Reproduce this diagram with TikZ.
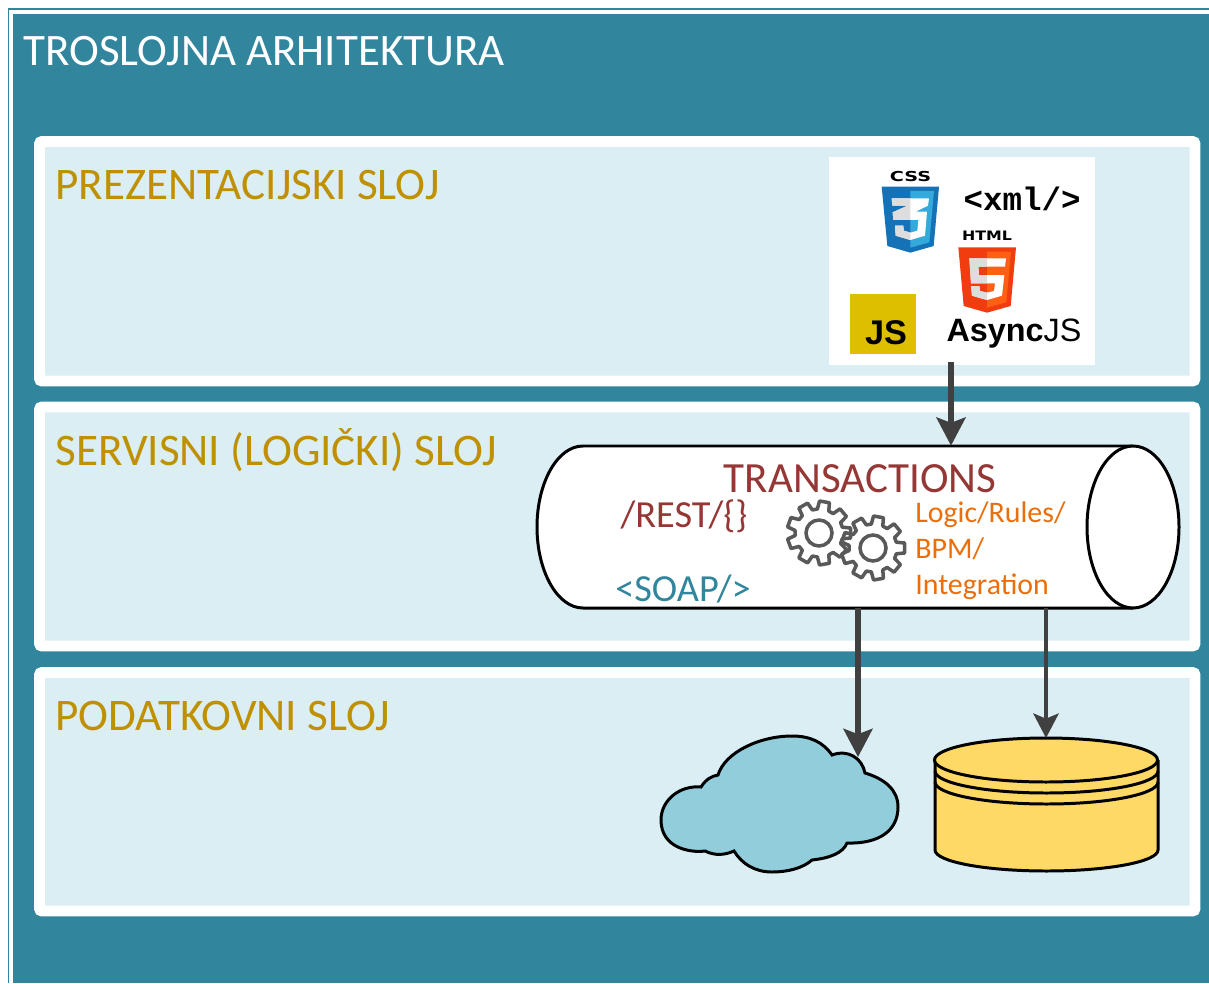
\documentclass[tikz,border=0pt]{standalone}
\usepackage{fontspec}
\setmainfont{Carlito}
\newfontfamily\logofont{DejaVu Sans}
\newfontfamily\xmlfont{Liberation Mono}
\newfontfamily\webfont{Liberation Sans}
\usetikzlibrary{arrows.meta}
\definecolor{tealbg}{HTML}{31859C}
\definecolor{panelblue}{HTML}{DBEEF4}
\definecolor{headgold}{HTML}{BF9000}
\definecolor{transred}{HTML}{953735}
\definecolor{logicorange}{HTML}{EA6E0B}
\definecolor{cloudblue}{HTML}{92CDDC}
\definecolor{dbyellow}{HTML}{FFD966}
\definecolor{flowgray}{HTML}{404040}
\definecolor{gearcol}{HTML}{595959}
\definecolor{cssdark}{HTML}{1572B6}
\definecolor{csslight}{HTML}{33A9DC}
\definecolor{htmldark}{HTML}{F03C0E}
\definecolor{htmllight}{HTML}{FF6014}
\definecolor{logogray}{HTML}{DDDDDD}
\definecolor{jsyellow}{HTML}{DDBF00}
\tikzset{
  panel/.style={draw=white,line width=6.2pt,fill=panelblue,rounded corners=1.5pt},
  heading/.style={anchor=west,inner sep=0pt,text=headgold,font=\fontsize{25.7}{28}\selectfont},
  shapeline/.style={draw=black,line width=1.7pt},
  bigflow/.style={draw=flowgray,line width=3pt,-{Stealth[length=16pt,width=16.5pt,inset=3pt]}},
  thinflow/.style={draw=flowgray,line width=1.8pt,-{Stealth[length=14pt,width=14.5pt,inset=3pt]}},
  logotext/.style={inner sep=0pt,text=black},
  pics/gear/.style={code={
    \draw[gearcol,line width=2pt,line join=round]
      (-14:24) \foreach \a in {0,40,...,320}{
        -- ({\a-14}:24) -- ({\a-9}:32) -- ({\a+9}:32) -- ({\a+14}:24) -- ({\a+26}:24)
      } -- cycle;
    \draw[gearcol,line width=2pt] (0,0) circle (13);
  }}
}
\begin{document}
\begin{tikzpicture}[x=0.02cm,y=-0.02cm]
    \useasboundingbox (0,0) rectangle (1209,983);
    \draw[tealbg,line width=0.8pt] (1209,9) -- (8.5,9) -- (8.5,983);
    \fill[tealbg] (13,14) rectangle (1209,983);
    \node[anchor=west,inner sep=0pt,text=white,font=\fontsize{25.6}{28}\selectfont] (title) at (23,51) {TROSLOJNA ARHITEKTURA};

    \draw[panel] (39.5,141.5) rectangle (1195,381);
    \draw[panel] (39.5,407) rectangle (1195,646);
    \draw[panel] (39.5,672.5) rectangle (1195,911);
    \node[heading] (presentation) at (55,185) {PREZENTACIJSKI SLOJ};
    \node[heading] (service) at (55,450) {SERVISNI (LOGIČKI) SLOJ};
    \node[heading] (data) at (55,716) {PODATKOVNI SLOJ};

    % web box
    \node[fill=white,inner sep=0pt,minimum width=5.32cm,minimum height=4.16cm] (web) at (962,261) {};
    \begin{scope}[shift={(875,165)},scale=1/3]
      \fill[cssdark] (20,65) -- (192,65) -- (176,243) -- (106,263) -- (37,243) -- cycle;
      \fill[csslight] (106,78) -- (177,78) -- (163,232) -- (106,248) -- cycle;
      \fill[white] (50,100) -- (162,100) -- (159,122) -- (122,140) -- (156,140) -- (150,212) -- (106,225) -- (62,212) -- (60,182) -- (85,182) -- (86,197) -- (106,203) -- (127,197) -- (130,165) -- (55,165) -- (53,142) -- (98,122) -- (52,122) -- cycle;
      \begin{scope}
        \clip (0,0) rectangle (106,300);
        \fill[logogray] (50,100) -- (162,100) -- (159,122) -- (122,140) -- (156,140) -- (150,212) -- (106,225) -- (62,212) -- (60,182) -- (85,182) -- (86,197) -- (106,203) -- (127,197) -- (130,165) -- (55,165) -- (53,142) -- (98,122) -- (52,122) -- cycle;
      \end{scope}
    \end{scope}
    \begin{scope}[shift={(950,225)},scale=1/3]
      \fill[htmldark] (25,67) -- (198,67) -- (182,243) -- (111,263) -- (41,243) -- cycle;
      \fill[htmllight] (111,80) -- (183,80) -- (169,232) -- (111,248) -- cycle;
      \fill[white] (58,100) -- (168,100) -- (165,125) -- (85,125) -- (87,150) -- (163,150) -- (156,212) -- (111,225) -- (66,212) -- (63,183) -- (88,183) -- (90,198) -- (111,203) -- (132,198) -- (135,175) -- (63,175) -- cycle;
      \begin{scope}
        \clip (0,0) rectangle (111,300);
        \fill[logogray] (58,100) -- (168,100) -- (165,125) -- (85,125) -- (87,150) -- (163,150) -- (156,212) -- (111,225) -- (66,212) -- (63,183) -- (88,183) -- (90,198) -- (111,203) -- (132,198) -- (135,175) -- (63,175) -- cycle;
      \end{scope}
    \end{scope}
    \node[logotext,font=\logofont\bfseries\fontsize{7.8}{8}\selectfont,xscale=1.4] (csslabel) at (910.5,177) {CSS};
    \node[logotext,font=\logofont\bfseries\fontsize{7.4}{8}\selectfont,xscale=1.22] (htmllabel) at (987,236) {HTML};
    \node[logotext,font=\xmlfont\bfseries\fontsize{18.5}{19}\selectfont] (xml) at (1022,199) {<xml/>};
    \node[fill=jsyellow,inner sep=0pt,minimum width=1.32cm,minimum height=1.22cm] (jsbox) at (882.5,324) {};
    \node[logotext,font=\webfont\bfseries\fontsize{19.5}{20}\selectfont] (jslabel) at (886,333) {JS};
    \node[logotext,font=\webfont\fontsize{18.4}{19}\selectfont] (async) at (1014,334) {\textbf{Async}JS};

    % transaction pipe
    \node[inner sep=0pt,minimum width=12.84cm,minimum height=3.24cm] (trans) at (858,527) {};
    \draw[shapeline,fill=white] (1133,446) -- (583,446) arc[start angle=270,end angle=90,x radius=46,y radius=81] -- (1133,608);
    \draw[shapeline,fill=white] (1133,527) ellipse [x radius=46,y radius=81];
    \node[inner sep=0pt,text=transred,font=\fontsize{24.5}{26}\selectfont] (translabel) at (860,479) {TRANSACTIONS};
    \node[inner sep=0pt,text=transred,font=\fontsize{21.8}{24}\selectfont] (rest) at (684,516) {/REST/\{\}};
    \node[inner sep=0pt,text=tealbg,font=\fontsize{21.8}{24}\selectfont] (soap) at (683,589) {<SOAP/>};
    \node[anchor=west,inner sep=0pt,align=left,text=logicorange,font=\fontsize{17}{20.4}\selectfont] (logic) at (915,551) {Logic/Rules/\\BPM/\\Integration};
    \pic at (819,533) {gear};
    \pic at (873,548) {gear};

    % cloud
    \draw[shapeline,fill=cloudblue] (701,787) .. controls (706,779) and (712,776) .. (718,775)
      .. controls (725,752) and (760,736) .. (792,736) .. controls (810,736) and (823,742) .. (832,755)
      .. controls (848,749) and (862,758) .. (865,773) .. controls (885,779) and (898,790) .. (898,807)
      .. controls (898,830) and (880,844) .. (847,843) .. controls (843,853) and (830,858) .. (812,860)
      .. controls (803,868) and (788,872) .. (772,872) .. controls (755,872) and (742,864) .. (734,851)
      .. controls (725,855) and (715,856) .. (705,851) .. controls (690,853) and (661,848) .. (661,820)
      .. controls (661,800) and (680,785) .. (701,787) -- cycle;
    \coordinate (cloudtop) at (858,757);

    % database
    \draw[shapeline,fill=dbyellow] (935,760) -- (935,850) arc[start angle=180,end angle=360,x radius=111.5,y radius=-21] -- (1158,760);
    \draw[shapeline,fill=dbyellow] (1046,760) ellipse [x radius=111.5,y radius=22];
    \draw[shapeline] (935,771) arc[start angle=180,end angle=360,x radius=111.5,y radius=-22];
    \draw[shapeline] (935,782) arc[start angle=180,end angle=360,x radius=111.5,y radius=-22];
    \coordinate (dbtop) at (1046,738);

    % flows
    \coordinate (webdrop) at (951,0);
    \coordinate (clouddrop) at (858,0);
    \coordinate (dbdrop) at (1046,0);
    \draw[bigflow,shorten <=-1.7pt] (webdrop |- web.south) -- (webdrop |- trans.north);
    \draw[bigflow] (clouddrop |- trans.south) -- (cloudtop);
    \draw[thinflow] (dbdrop |- trans.south) -- (dbtop);
\end{tikzpicture}
\end{document}
